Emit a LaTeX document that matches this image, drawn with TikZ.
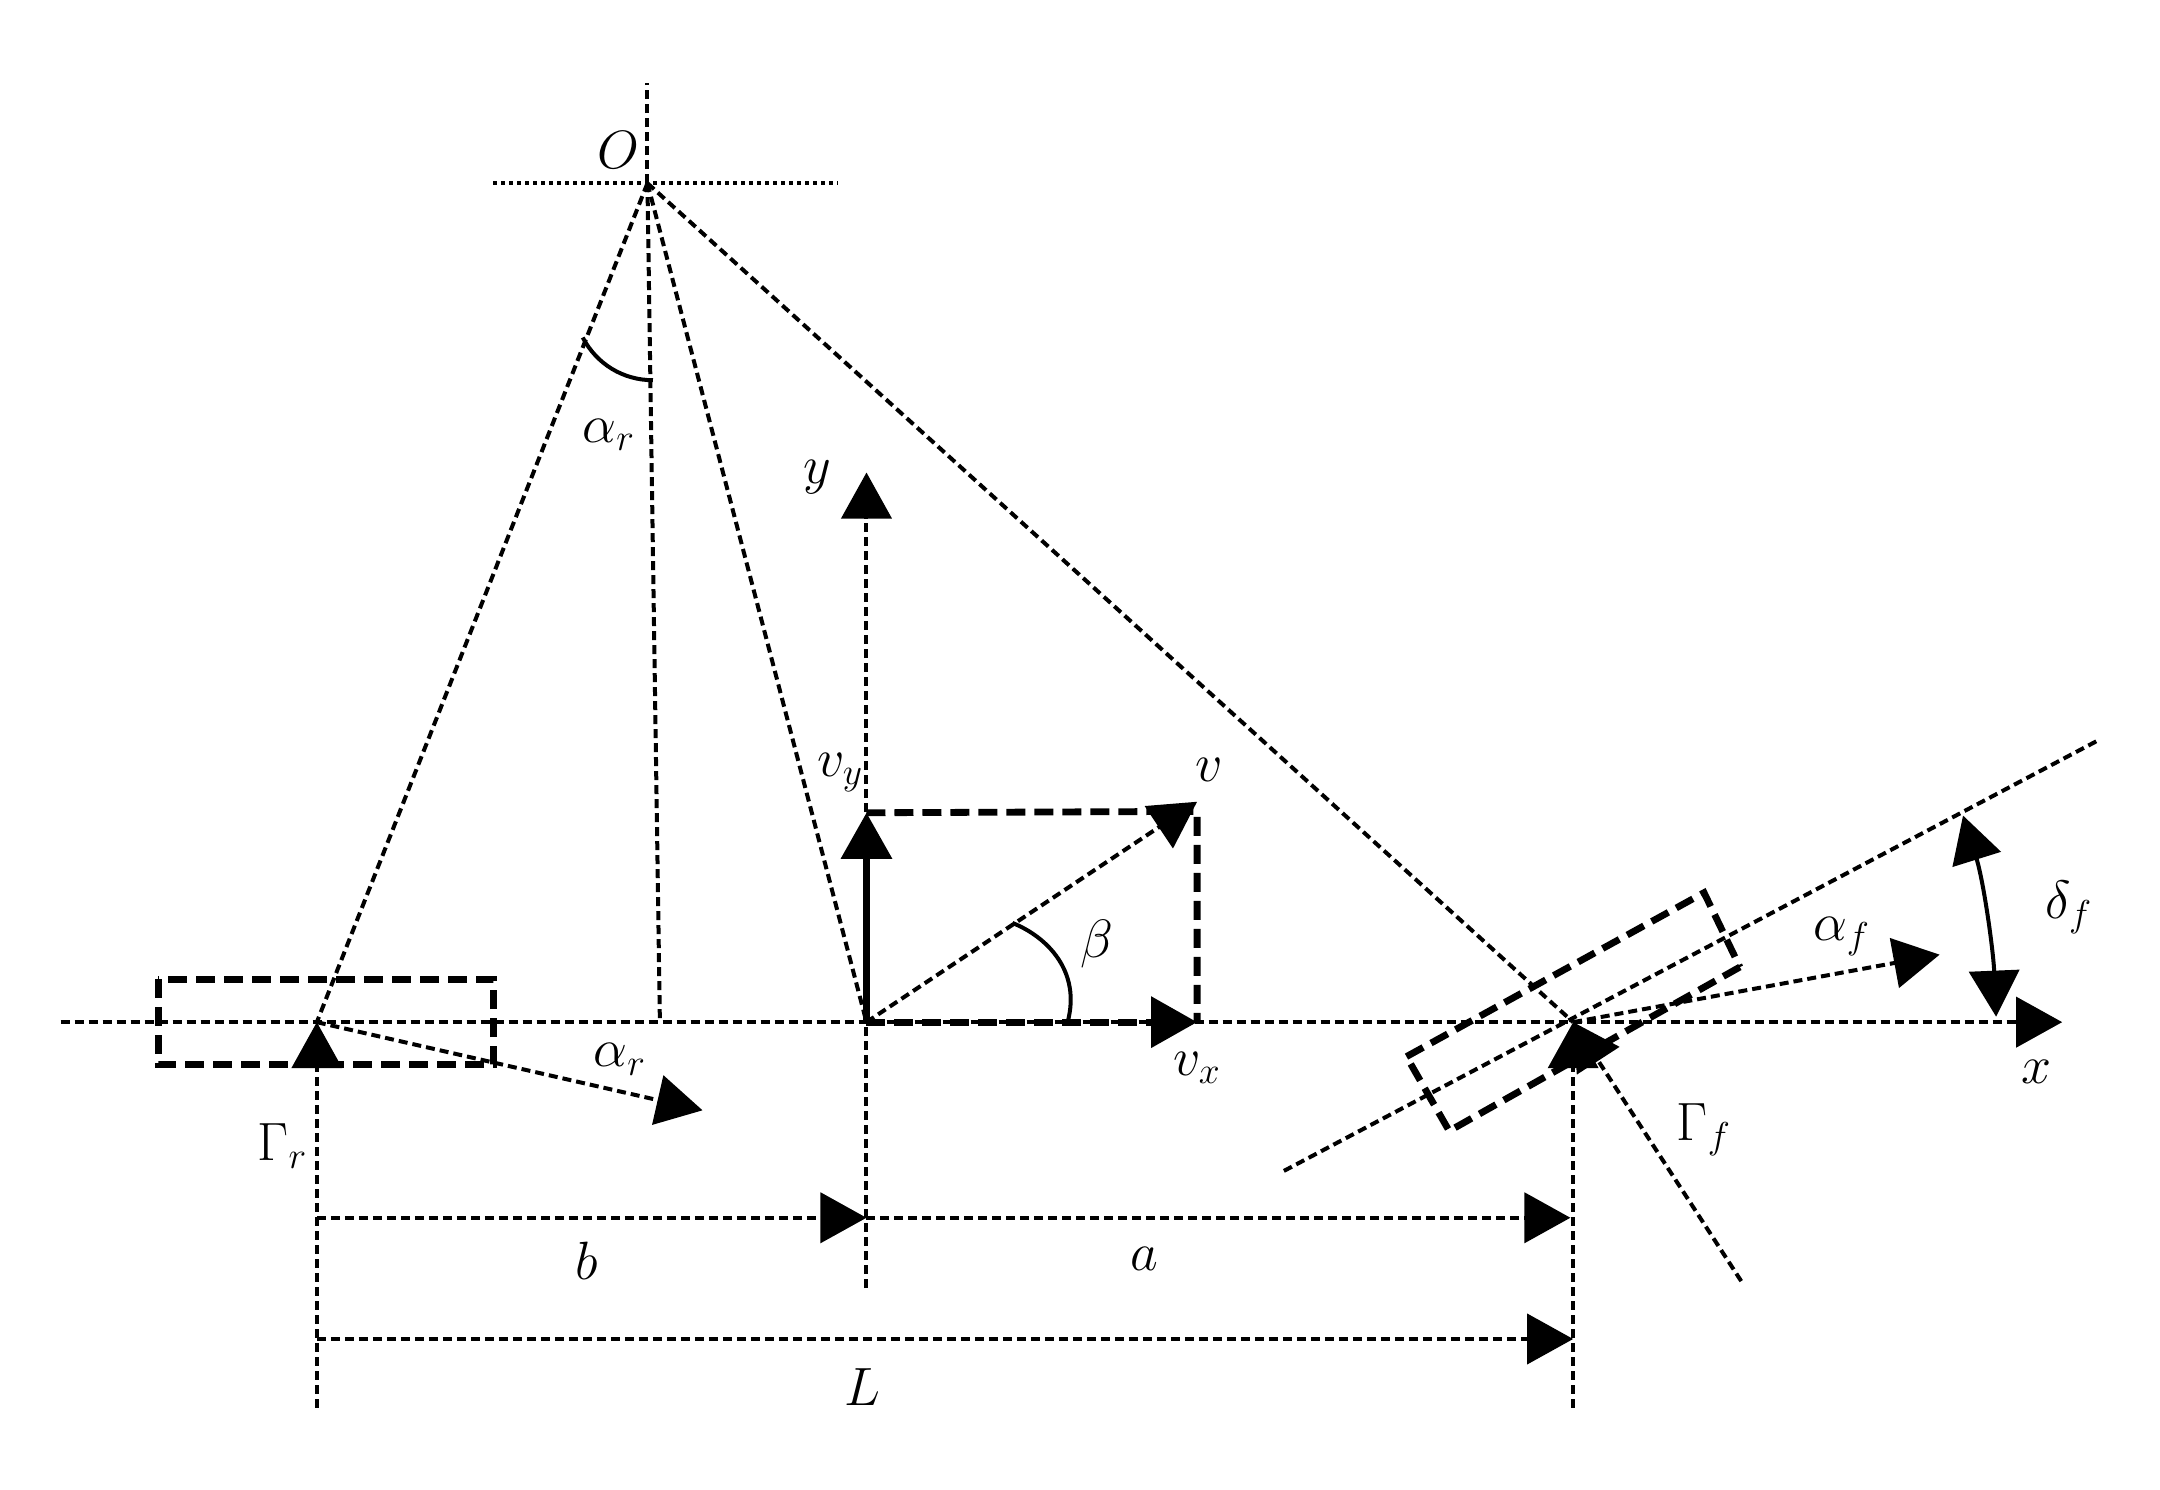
\documentclass[tikz,border=0pt]{standalone}
\usepackage{amsmath}
\usetikzlibrary{arrows.meta}
\tikzset{
  every node/.style={inner sep=0pt,outer sep=0pt,font=\huge,scale=1.3},
  thin dash/.style={line width=2pt,dash pattern=on 4.5pt off 2.5pt},
  thick dash/.style={line width=3.4pt,dash pattern=on 9.5pt off 4.5pt},
  dot dash/.style={line width=2.2pt,dash pattern=on 2pt off 2pt},
  solid line/.style={line width=2pt},
  big tip/.style={-{Triangle[length=23pt,width=25pt]}},
  both tips/.style={{Triangle[length=23pt,width=25pt]}-{Triangle[length=23pt,width=25pt]}}
}
\begin{document}
\begin{tikzpicture}[x=0.6888pt,y=-0.6888pt]
\useasboundingbox (0,0) rectangle (1568,1081);
% anchor points
\coordinate (O) at (470,133);
\coordinate (Otop) at (470,60);
\coordinate (Ol) at (358,133);
\coordinate (Or) at (608,133);
\coordinate (R) at (230,742);
\coordinate (C) at (629,742);
\coordinate (F) at (1142,742);
\coordinate (Ofoot) at (479,740);
\coordinate (AxL) at (44,742);
\coordinate (AxR) at (1497,742);
\coordinate (Yb) at (629,935);
\coordinate (Yt) at (629,343);
\coordinate (Vy) at (629,590);
\coordinate (Vx) at (869,742);
\coordinate (Vc) at (869,589);
\coordinate (V) at (869,582);
\coordinate (Rtip) at (510,806);
\coordinate (Rbot) at (230,1022);
\coordinate (Fbot) at (1142,1022);
\coordinate (Ftip) at (1408,693);
\coordinate (Gf) at (1264,930);
\coordinate (Sl) at (932,850);
\coordinate (Sr) at (1522,538);
\coordinate (Bb) at (230,884);
\coordinate (Bm) at (629,884);
\coordinate (Ba) at (1140,884);
\coordinate (Ll) at (230,972);
\coordinate (Lr) at (1142,972);
\coordinate (Da) at (1425,592);
\coordinate (Db) at (1449,738);
% thin dashed lines
\draw[thin dash] (O) -- (Otop);
\draw[dot dash] (Ol) -- (Or);
\draw[thin dash] (O) -- (R);
\draw[thin dash] (O) -- (C);
\draw[thin dash] (O) -- (F);
\draw[thin dash] (O) -- (Ofoot);
\draw[thin dash,big tip] (AxL) -- (AxR);
\draw[thin dash,big tip] (Yb) -- (Yt);
\draw[thin dash,big tip] (C) -- (V);
\draw[thin dash,big tip] (R) -- (Rtip);
\draw[thin dash,big tip] (Rbot) -- (R);
\draw[thin dash,big tip] (Fbot) -- (F);
\draw[thin dash,big tip] (Gf) -- (F);
\draw[thin dash,big tip] (F) -- (Ftip);
\draw[thin dash] (Sl) -- (Sr);
\draw[thin dash,big tip] (Bb) -- (Bm);
\draw[thin dash,big tip] (Bm) -- (Ba);
\draw[thin dash,big tip] (Ll) -- (Lr);
% thick dashed boxes
\draw[thick dash] (115,711) rectangle (358,773);
\draw[thick dash] (1021,767) -- (1237,648) -- (1263,702);
\draw[thick dash] (1263,702) -- (1052,821) -- (1021,767);
\draw[thick dash] (Vy) -- (Vc) -- (Vx);
\draw[thick dash,big tip] (C) -- (Vx);
\draw[solid line,line width=3.2pt,big tip] (C) -- (Vy);
% angle arcs
\draw[solid line] (423,245) .. controls (433,264) and (452,276) .. (474,276);
\draw[solid line] (735,670) .. controls (760,680) and (785,705) .. (775,742);
\draw[solid line,both tips] (Da) .. controls (1440,640) and (1447,690) .. (Db);
% labels
\node (lO) at (449,109) {$O$};
\node (lar) at (442,316) {$\alpha_r$};
\node (ly) at (593,346) {$y$};
\node (lvy) at (610,561) {$v_y$};
\node (lv) at (878,559) {$v$};
\node (lb) at (796,685) {$\beta$};
\node (lvx) at (869,775) {$v_x$};
\node (lar2) at (450,769) {$\alpha_r$};
\node (lGr) at (205,832) {$\Gamma_r$};
\node (lbb) at (426,915) {$b$};
\node (la) at (831,914) {$a$};
\node (lL) at (626,1007) {$L$};
\node (lx) at (1478,778) {$x$};
\node (ldf) at (1502,659) {$\delta_f$};
\node (laf) at (1337,680) {$\alpha_f$};
\node (lGf) at (1237,820) {$\Gamma_f$};
\end{tikzpicture}
\end{document}
